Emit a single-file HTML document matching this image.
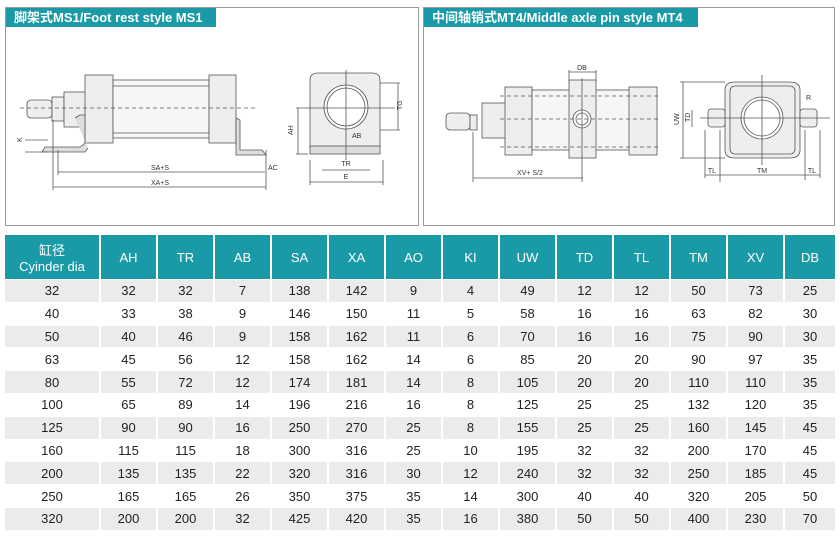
<!DOCTYPE html>
<html><head><meta charset="utf-8"><style>
body{margin:0;width:840px;height:536px;background:#fff;position:relative;overflow:hidden;font-family:"Liberation Sans","Noto Sans CJK SC",sans-serif}
.panel{position:absolute;top:7px;height:219px;border:1px solid #9a9a9a;box-sizing:border-box}
.ttl{position:absolute;left:0;top:0;height:19px;background:#1a9aa6;color:#fff;font-weight:bold;font-size:13px;line-height:19px;padding-left:8px;white-space:nowrap}
table{position:absolute;left:5px;top:235px;border-collapse:collapse;width:830px;table-layout:fixed}
th{background:#1a9aa6;color:#fff;font-weight:normal;font-size:13px;height:44px;border-left:2px solid #fff;padding:0}
td{height:21.8px;font-size:13px;color:#222;text-align:center;border-left:2px solid #fff;border-top:1px solid #fff;padding:0}
tr:nth-child(even) td{background:#ebebeb}
th:first-child,td:first-child{border-left:none}
svg{position:absolute;left:0;top:0}
</style></head><body>
<div class="panel" style="left:5px;width:414px"><div class="ttl" style="width:202px">脚架式MS1/Foot rest style MS1</div></div>
<div class="panel" style="left:423px;width:412px"><div class="ttl" style="width:266px">中间轴销式MT4/Middle axle pin style MT4</div></div>
<svg width="840" height="230" viewBox="0 0 840 230" fill="none" stroke="#555" stroke-width="0.8" font-family="Liberation Sans" font-size="7">
<rect x="27" y="100" width="25" height="18" rx="4" fill="#eee"/>
<rect x="52" y="97" width="12" height="24" fill="#eee"/>
<rect x="64" y="92" width="22" height="35" fill="#eee"/>
<rect x="85" y="75" width="28" height="68" fill="#eee"/>
<rect x="113" y="80" width="96" height="58" fill="#f6f6f6"/>
<line x1="113" y1="86" x2="209" y2="86"/><line x1="113" y1="133" x2="209" y2="133"/>
<rect x="209" y="75" width="27" height="68" fill="#eee"/>
<path d="M75 118 L80 115 L85 115 L85 143 L80 147 L45 147 L42 152 L85 152 L88 148" fill="#ddd"/>
<path d="M236 118 L240 120 L240 150 L262 150 L266 155 L236 155 Z" fill="#ddd"/>
<line x1="20" y1="108" x2="255" y2="108" stroke-dasharray="4 3"/>
<line x1="58" y1="172" x2="265" y2="172"/><line x1="53" y1="187" x2="266" y2="187"/>
<line x1="58" y1="150" x2="58" y2="175"/><line x1="53" y1="120" x2="53" y2="190"/><line x1="266" y1="150" x2="266" y2="190"/>
<text x="160" y="170" fill="#333" stroke="none" text-anchor="middle">SA+S</text>
<text x="160" y="185" fill="#333" stroke="none" text-anchor="middle">XA+S</text>
<text x="268" y="170" fill="#333" stroke="none">AC</text>
<text x="22" y="142" fill="#333" stroke="none" transform="rotate(-90 22 142)">K</text>
<line x1="25" y1="140" x2="48" y2="140"/><line x1="25" y1="152" x2="48" y2="152"/>
<path d="M310 148 L310 80 Q310 73 318 73 L372 73 Q380 73 380 80 L380 148 Z" fill="#eee"/>
<rect x="310" y="146" width="70" height="8" fill="#ddd"/>
<circle cx="346" cy="107" r="22" fill="#fff"/><circle cx="346" cy="107" r="19"/>
<line x1="296" y1="108" x2="395" y2="108"/><line x1="346" y1="70" x2="346" y2="160"/>
<line x1="310" y1="160" x2="310" y2="185"/><line x1="383" y1="160" x2="383" y2="185"/>
<line x1="310" y1="182" x2="383" y2="182"/><line x1="322" y1="170" x2="370" y2="170"/>
<line x1="296" y1="154" x2="308" y2="154"/><line x1="298" y1="108" x2="298" y2="154"/>
<line x1="380" y1="83" x2="400" y2="83"/><line x1="380" y1="130" x2="400" y2="130"/><line x1="398" y1="83" x2="398" y2="130"/>
<text x="346" y="166" fill="#333" stroke="none" text-anchor="middle">TR</text>
<text x="346" y="179" fill="#333" stroke="none" text-anchor="middle">E</text>
<text x="352" y="138" fill="#333" stroke="none">AB</text>
<text x="293" y="135" fill="#333" stroke="none" transform="rotate(-90 293 135)">AH</text>
<text x="402" y="110" fill="#333" stroke="none" transform="rotate(-90 402 110)">TG</text>
<rect x="446" y="113" width="24" height="17" rx="4" fill="#eee"/>
<rect x="470" y="115" width="7" height="15" fill="#eee"/>
<rect x="482" y="103" width="24" height="35" fill="#eee"/>
<rect x="505" y="87" width="27" height="68" fill="#eee"/>
<rect x="532" y="90" width="117" height="60" fill="#f6f6f6"/>
<rect x="569" y="80" width="27" height="78" fill="#eee"/>
<rect x="629" y="87" width="28" height="68" fill="#eee"/>
<circle cx="582" cy="119" r="9" fill="#fff"/><circle cx="582" cy="119" r="6"/>
<line x1="500" y1="96" x2="660" y2="96" stroke-dasharray="4 3"/>
<line x1="500" y1="119" x2="660" y2="119" stroke-dasharray="4 3"/>
<line x1="500" y1="147" x2="660" y2="147" stroke-dasharray="4 3"/>
<line x1="582" y1="78" x2="582" y2="182"/>
<line x1="569" y1="72" x2="596" y2="72"/><line x1="569" y1="70" x2="569" y2="82"/><line x1="596" y1="70" x2="596" y2="82"/>
<text x="582" y="70" fill="#333" stroke="none" text-anchor="middle">DB</text>
<line x1="473" y1="178" x2="583" y2="178"/><line x1="473" y1="132" x2="473" y2="182"/>
<text x="530" y="175" fill="#333" stroke="none" text-anchor="middle">XV+ S/2</text>
<path d="M725 90 Q725 82 735 82 L790 82 Q800 82 800 90 L800 150 Q800 158 790 158 L735 158 Q725 158 725 150 Z" fill="#eee"/>
<rect x="730" y="86" width="65" height="68" rx="5" fill="none"/>
<circle cx="762" cy="118" r="21" fill="#fff"/><circle cx="762" cy="118" r="18"/>
<rect x="708" y="109" width="17" height="18" rx="3" fill="#eee"/><rect x="800" y="109" width="17" height="18" rx="3" fill="#eee"/>
<line x1="700" y1="118" x2="830" y2="118"/><line x1="762" y1="75" x2="762" y2="165"/>
<line x1="680" y1="82" x2="725" y2="82"/><line x1="680" y1="158" x2="725" y2="158"/><line x1="683" y1="82" x2="683" y2="158"/>
<line x1="692" y1="110" x2="692" y2="127"/>
<line x1="705" y1="130" x2="705" y2="178"/><line x1="720" y1="130" x2="720" y2="182"/><line x1="805" y1="130" x2="805" y2="180"/><line x1="820" y1="130" x2="820" y2="178"/>
<line x1="705" y1="175" x2="820" y2="175"/>
<text x="712" y="173" fill="#333" stroke="none" text-anchor="middle">TL</text>
<text x="762" y="173" fill="#333" stroke="none" text-anchor="middle">TM</text>
<text x="812" y="173" fill="#333" stroke="none" text-anchor="middle">TL</text>
<text x="679" y="125" fill="#333" stroke="none" transform="rotate(-90 679 125)">UW</text>
<text x="690" y="122" fill="#333" stroke="none" transform="rotate(-90 690 122)">TD</text>
<text x="806" y="100" fill="#333" stroke="none">R</text>
</svg>
<table>
<colgroup><col style="width:95px"><col span="12" style="width:57px"><col></colgroup>
<tr><th>缸径<br>Cyinder dia</th><th>AH</th><th>TR</th><th>AB</th><th>SA</th><th>XA</th><th>AO</th><th>KI</th><th>UW</th><th>TD</th><th>TL</th><th>TM</th><th>XV</th><th>DB</th></tr>
<tr><td>32</td><td>32</td><td>32</td><td>7</td><td>138</td><td>142</td><td>9</td><td>4</td><td>49</td><td>12</td><td>12</td><td>50</td><td>73</td><td>25</td></tr>
<tr><td>40</td><td>33</td><td>38</td><td>9</td><td>146</td><td>150</td><td>11</td><td>5</td><td>58</td><td>16</td><td>16</td><td>63</td><td>82</td><td>30</td></tr>
<tr><td>50</td><td>40</td><td>46</td><td>9</td><td>158</td><td>162</td><td>11</td><td>6</td><td>70</td><td>16</td><td>16</td><td>75</td><td>90</td><td>30</td></tr>
<tr><td>63</td><td>45</td><td>56</td><td>12</td><td>158</td><td>162</td><td>14</td><td>6</td><td>85</td><td>20</td><td>20</td><td>90</td><td>97</td><td>35</td></tr>
<tr><td>80</td><td>55</td><td>72</td><td>12</td><td>174</td><td>181</td><td>14</td><td>8</td><td>105</td><td>20</td><td>20</td><td>110</td><td>110</td><td>35</td></tr>
<tr><td>100</td><td>65</td><td>89</td><td>14</td><td>196</td><td>216</td><td>16</td><td>8</td><td>125</td><td>25</td><td>25</td><td>132</td><td>120</td><td>35</td></tr>
<tr><td>125</td><td>90</td><td>90</td><td>16</td><td>250</td><td>270</td><td>25</td><td>8</td><td>155</td><td>25</td><td>25</td><td>160</td><td>145</td><td>45</td></tr>
<tr><td>160</td><td>115</td><td>115</td><td>18</td><td>300</td><td>316</td><td>25</td><td>10</td><td>195</td><td>32</td><td>32</td><td>200</td><td>170</td><td>45</td></tr>
<tr><td>200</td><td>135</td><td>135</td><td>22</td><td>320</td><td>316</td><td>30</td><td>12</td><td>240</td><td>32</td><td>32</td><td>250</td><td>185</td><td>45</td></tr>
<tr><td>250</td><td>165</td><td>165</td><td>26</td><td>350</td><td>375</td><td>35</td><td>14</td><td>300</td><td>40</td><td>40</td><td>320</td><td>205</td><td>50</td></tr>
<tr><td>320</td><td>200</td><td>200</td><td>32</td><td>425</td><td>420</td><td>35</td><td>16</td><td>380</td><td>50</td><td>50</td><td>400</td><td>230</td><td>70</td></tr>
</table>
</body></html>
